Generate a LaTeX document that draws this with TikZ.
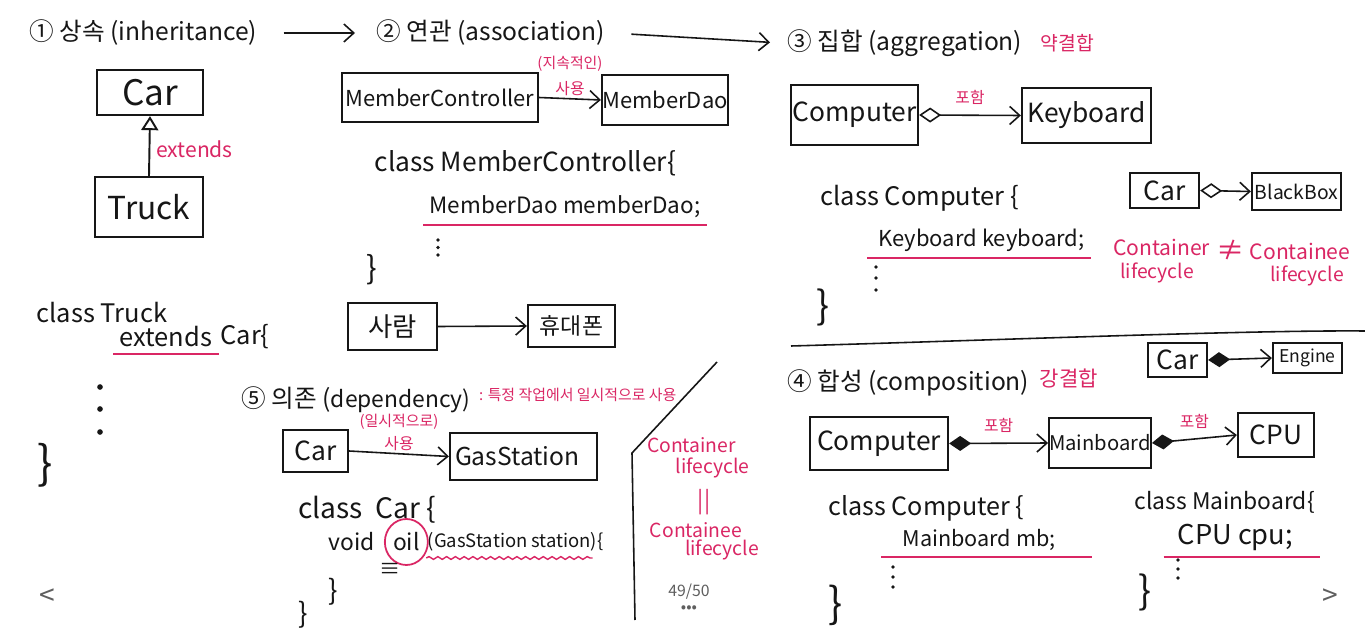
\documentclass[tikz,border=0pt]{standalone}
\usepackage{fontspec}
\setmainfont{Noto Sans CJK KR}
\usetikzlibrary{arrows.meta,positioning,decorations.pathmorphing}
\definecolor{accent}{RGB}{218,38,100}
\definecolor{ink}{RGB}{22,22,22}
\definecolor{uigray}{RGB}{95,95,95}
\newcommand{\fsize}[1]{\fontsize{#1}{#1}\selectfont}

\begin{document}
\begin{tikzpicture}[line width=0.9pt,color=ink,
  box/.style={draw,line width=1.3pt,inner sep=0pt},
  head/.style={anchor=west,font=\fsize{14}},
  code/.style={anchor=west,font=\fsize{#1}},
  pk/.style={text=accent},
  uline/.style={draw=accent,line width=1.1pt},
  brace/.style={font=\fsize{#1}},
  assoc/.style={-{Straight Barb[length=2mm,width=3.6mm]}},
  inherit/.style={line width=1.1pt,-{Triangle[open,length=2.8mm,width=3.4mm,fill=white]}},
  aggr/.style={{Diamond[open,length=4.4mm,width=3mm,fill=white]}-{Straight Barb[length=2mm,width=3.6mm]}},
  compo/.style={{Diamond[length=4.4mm,width=3mm]}-{Straight Barb[length=2mm,width=3.6mm]}}]
\fill[white] (0,0) rectangle (27.3,-12.62);
\useasboundingbox (0,0) rectangle (27.3,-12.62);
% 제목 줄
\node[head] (h1) at (0.46,-0.66) {① 상속 (inheritance)};
\node[head] (h2) at (7.4,-0.66) {② 연관 (association)};
\node[head] (h3) at (15.62,-0.86) {③ 집합 (aggregation)};
\node[pk,font=\fsize{11},right=0.1cm of h3] (weak) {약결합};
\draw[assoc,shorten <=0.4cm,shorten >=0.3cm] (h1.east) -- (h2.west);
\draw[assoc,shorten <=0.4cm,shorten >=0.22cm] (h2.east) -- (h3.west);
% ① 상속
\node[box,minimum width=2.12cm,minimum height=0.9cm,font=\fsize{20}] (car1) at (3.0,-1.85) {Car};
\node[box,minimum width=2.16cm,minimum height=1.2cm,font=\fsize{18}] (truck) at (2.98,-4.14) {Truck};
\draw[inherit] (truck.north) -- node[right,pk,font=\fsize{12},pos=0.45] (ext1) {extends} (car1.south);
\node[code=14.5] (ct1) at (0.6,-6.26) {class Truck};
\node[code=14.5] (ct2) at (2.26,-6.74) {extends};
\node[code=14.5,right=-0.1cm of ct2] (ct3) {Car\{};
\draw[uline] (ct2.south west) -- (ct2.south east);
\foreach \y in {-7.74,-8.18,-8.64} \fill (2.0,\y) circle (1.6pt);
\node[brace=26] (br1) at (0.9,-9.3) {\}};
% ② 연관
\node[box,minimum width=3.92cm,minimum height=0.98cm,font=\fsize{12.5}] (mc) at (8.8,-1.95) {MemberController};
\node[box,minimum width=2.52cm,minimum height=1.0cm,font=\fsize{12.5}] (md) at (13.3,-2.0) {MemberDao};
\draw[assoc] (mc.east) -- node[above,inner sep=1pt,pk,font=\fsize{9}] (use1) {사용} (md.west);
\node[pk,font=\fsize{8.5},above=0.02cm of use1] (persist) {(지속적인)};
\node[code=15] (cm1) at (7.36,-3.26) {class MemberController\{};
\node[code=12.8] (cm2) at (8.46,-4.14) {MemberDao memberDao;};
\draw[uline] (cm2.south west) -- (cm2.south east);
\foreach \y in {-4.8,-4.95,-5.1} \fill (8.76,\y) circle (1.1pt);
\node[brace=18] (br2) at (7.44,-5.4) {\}};
\node[box,minimum width=1.78cm,minimum height=0.94cm,font=\fsize{15}] (person) at (7.85,-6.53) {사람};
\node[box,minimum width=1.74cm,minimum height=0.84cm,font=\fsize{13}] (phone) at (11.43,-6.52) {휴대폰};
\draw[assoc] (person.east) -- (phone.west);
% ③ 집합
\node[box,minimum width=2.54cm,minimum height=1.2cm,font=\fsize{15}] (comp1) at (17.09,-2.3) {Computer};
\node[box,minimum width=2.58cm,minimum height=1.1cm,font=\fsize{15}] (kb) at (21.73,-2.31) {Keyboard};
\draw[aggr] (comp1.east) -- node[above=0.08cm,pk,font=\fsize{9}] (inc1) {포함} (kb.west);
\node[code=14.5] (cc1) at (16.28,-3.96) {class Computer \{};
\node[code=12.5] (cc2) at (17.44,-4.8) {Keyboard keyboard;};
\draw[uline] ([xshift=-0.1cm]cc2.south west) -- (cc2.south east);
\foreach \y in {-5.34,-5.56,-5.8} \fill (17.52,\y) circle (1.1pt);
\node[brace=22] (br3) at (16.46,-6.14) {\}};
\node[box,minimum width=1.38cm,minimum height=0.7cm,font=\fsize{15}] (car2) at (23.29,-3.81) {Car};
\node[box,minimum width=1.78cm,minimum height=0.74cm,font=\fsize{11}] (bb) at (25.93,-3.83) {BlackBox};
\draw[aggr] (car2.east) -- (bb.west);
\node[pk,inner sep=1pt,font=\fsize{12}] (cont1) at (23.23,-4.94) {Container};
\node[pk,inner sep=1pt,font=\fsize{16}] (neq) at (24.62,-5.0) {≠};
\node[pk,inner sep=1pt,font=\fsize{12}] (cont2) at (26.0,-5.02) {Containee};
\node[pk,inner sep=1pt,font=\fsize{11}] (lc1) at (23.14,-5.46) {lifecycle};
\node[pk,inner sep=1pt,font=\fsize{11}] (lc2) at (26.14,-5.52) {lifecycle};
\draw (15.82,-6.92) .. controls (20,-6.8) and (25,-6.6) .. (27.3,-6.62);
% ④ 합성
\node[head] (h4) at (15.62,-7.66) {④ 합성 (composition)};
\node[pk,font=\fsize{12},anchor=west] (strong) at (20.66,-7.56) {강결합};
\node[box,minimum width=1.18cm,minimum height=0.68cm,font=\fsize{15}] (car3) at (23.55,-7.2) {Car};
\node[box,minimum width=1.38cm,minimum height=0.6cm,font=\fsize{10}] (engine) at (26.15,-7.16) {Engine};
\draw[compo] (car3.east) -- (engine.west);
\node[box,minimum width=2.76cm,minimum height=1.06cm,font=\fsize{15}] (comp2) at (17.58,-8.87) {Computer};
\node[box,minimum width=2.0cm,minimum height=1.0cm,font=\fsize{11.5}] (mb) at (22.0,-8.86) {Mainboard};
\node[box,minimum width=1.52cm,minimum height=0.88cm,font=\fsize{15}] (cpu) at (25.52,-8.7) {CPU};
\draw[compo] (comp2.east) -- node[above=0.08cm,pk,font=\fsize{9}] (inc2) {포함} (mb.west);
\draw[compo] (mb.east) -- node[above=0.08cm,pk,font=\fsize{9}] (inc3) {포함} (cpu.west);
\node[code=14.3] (cc3) at (16.44,-10.16) {class Computer \{};
\node[code=12.3] (cc4) at (17.92,-10.8) {Mainboard mb;};
\draw[uline] ([xshift=-0.3cm]cc4.south west) -- ([xshift=0.6cm]cc4.south east);
\foreach \y in {-11.34,-11.54,-11.74} \fill (17.86,\y) circle (1.1pt);
\node[brace=24] (br4) at (16.72,-12.1) {\}};
\node[code=13] (cm3) at (22.56,-10.04) {class Mainboard\{};
\node[code=15.5] (cm4) at (23.42,-10.74) {CPU cpu;};
\draw[uline] ([xshift=-0.15cm]cm4.south west) -- ([xshift=0.4cm]cm4.south east);
\foreach \y in {-11.2,-11.38,-11.56} \fill (23.56,\y) circle (1.1pt);
\node[brace=22] (br5) at (22.9,-11.84) {\}};
% ⑤ 의존
\node[head] (h5) at (4.7,-8.0) {⑤ 의존 (\fsize{13}dependency)};
\node[pk,font=\fsize{8.5},anchor=west] (depnote) at (9.45,-7.9) {: 특정 작업에서 일시적으로 사용};
\node[box,minimum width=1.3cm,minimum height=0.84cm,font=\fsize{15}] (car4) at (6.31,-9.02) {Car};
\node[box,text width=2.74cm,inner xsep=0.1cm,minimum height=0.94cm,align=left,font=\fsize{14}] (gas) at (10.47,-9.13) {GasStation};
\draw[assoc] (car4.east) -- node[above,inner sep=1pt,pk,font=\fsize{9}] (use2) {사용} (gas.west);
\node[pk,font=\fsize{8.5},above=-0.04cm of use2] (temp) {(일시적으로)};
\node[code=16] (cd1) at (5.84,-10.2) {class \ Car \{};
\node[code=13] (cd2) at (6.44,-10.84) {void};
\node[font=\fsize{13},right=0.1cm of cd2] (oil) {oil};
\node[font=\fsize{10.5},right=-0.1cm of oil] (param) {(GasStation station)\{};
\draw[accent,line width=1pt] (oil) ellipse (0.43cm and 0.46cm);
\draw[accent,line width=0.8pt,decorate,decoration={snake,amplitude=0.8pt,segment length=5pt}]
  ([xshift=0.1cm]param.south west) -- ([xshift=-0.35cm]param.south east);
\node[font=\fsize{12}] (eqv) at (7.8,-11.39) {≡};
\node[brace=16] (br6) at (6.66,-11.84) {\}};
\node[brace=16] (br7) at (6.06,-12.3) {\}};
% 사선 구분선과 메모
\draw (14.34,-7.24) -- (12.64,-9.06) -- (12.7,-12.4);
\node[pk,font=\fsize{11}] (cont3) at (13.83,-8.9) {Container};
\node[pk,font=\fsize{11}] (lc3) at (14.25,-9.36) {lifecycle};
\node[pk,font=\fsize{13}] (same) at (14.08,-10.04) {||};
\node[pk,font=\fsize{11}] (cont4) at (13.92,-10.6) {Containee};
\node[pk,font=\fsize{11}] (lc4) at (14.44,-11.0) {lifecycle};
% 화면 표시
\node[text=uigray,font=\fsize{9}] (page) at (13.78,-11.84) {49/50};
\node[text=uigray,font=\fsize{9}] (more) at (13.78,-12.18) {•••};
\node[text=uigray,font=\fsize{16}] (prev) at (0.94,-11.94) {<};
\node[text=uigray,font=\fsize{16}] (next) at (26.6,-11.94) {>};
\end{tikzpicture}
\end{document}
